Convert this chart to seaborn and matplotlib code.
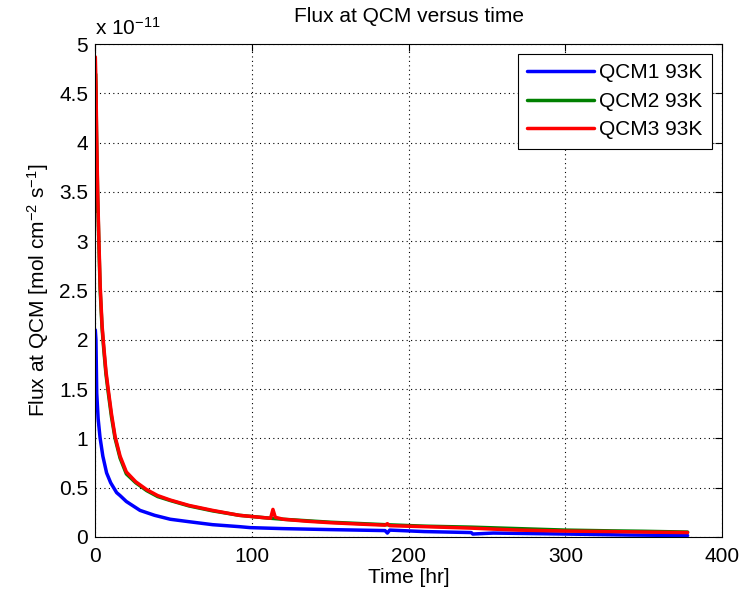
import numpy as np
import pandas as pd
import matplotlib
matplotlib.use("Agg")
import matplotlib.pyplot as plt
import seaborn as sns

# values, flux in units of 1e-11 mol cm^-2 s^-1
t_qcm1 = [0.2, 0.6, 1.1, 2, 3.2, 5, 7.4, 10, 13.8, 16, 20, 28.7, 38, 48, 60, 75, 92, 99,
          120, 150, 185, 186.5, 188, 210, 240, 241, 254, 300, 340, 378]
f_qcm1 = [2.1, 2.0, 1.46, 1.2, 1.01, 0.82, 0.65, 0.55, 0.45, 0.42, 0.36, 0.27, 0.22, 0.18,
          0.155, 0.125, 0.105, 0.095, 0.085, 0.075, 0.065, 0.04, 0.07, 0.055, 0.045, 0.03,
          0.04, 0.03, 0.02, 0.015]

t_qcm2 = [0, 0.3, 0.6, 1.0, 1.7, 2.5, 3.3, 4.5, 5.5, 7, 8.5, 10.5, 12.8, 16, 20, 26, 33, 40,
          48, 60, 75, 92, 112, 120, 150, 185, 210, 240, 270, 300, 330, 350, 378]
f_qcm2 = [3.3, 4.7, 4.5, 4.05, 3.45, 2.95, 2.5, 2.12, 1.92, 1.65, 1.46, 1.22, 1.0, 0.8, 0.64,
          0.55, 0.47, 0.41, 0.37, 0.315, 0.265, 0.22, 0.19, 0.18, 0.15, 0.125, 0.11, 0.1,
          0.085, 0.07, 0.062, 0.058, 0.05]

t_qcm3 = [0.2, 0.6, 1.0, 1.7, 2.5, 3.3, 4.5, 5.5, 7, 8.5, 10.5, 12.8, 16, 20, 26, 33, 40, 48,
          60, 75, 92, 105, 112, 113.5, 115, 120, 135, 150, 170, 185, 186.5, 188, 210, 240,
          254, 270, 300, 330, 350, 378]
f_qcm3 = [4.87, 4.6, 4.13, 3.5, 3.0, 2.55, 2.15, 1.95, 1.68, 1.49, 1.25, 1.02, 0.82, 0.66,
          0.56, 0.48, 0.42, 0.375, 0.32, 0.27, 0.22, 0.2, 0.19, 0.28, 0.2, 0.18, 0.16, 0.145,
          0.13, 0.12, 0.135, 0.115, 0.105, 0.09, 0.08, 0.07, 0.06, 0.055, 0.05, 0.045]

labels = ["QCM1 93K", "QCM2 93K", "QCM3 93K"]
colors = ["#0000ff", "#008000", "#ff0000"]

sns.set_style("white")
plt.rcParams["font.family"] = ["Liberation Sans", "DejaVu Sans"]
plt.rcParams["mathtext.fontset"] = "custom"
plt.rcParams["mathtext.rm"] = "Liberation Sans"
plt.rcParams["mathtext.it"] = "Liberation Sans"
plt.rcParams["text.color"] = "black"
plt.rcParams["axes.labelcolor"] = "black"
plt.rcParams["xtick.color"] = "black"
plt.rcParams["ytick.color"] = "black"

fig = plt.figure(figsize=(7.51, 5.96), dpi=100)
ax = fig.add_axes([0.1265, 0.099, 0.835, 0.827])

series = [(t_qcm1, f_qcm1), (t_qcm2, f_qcm2), (t_qcm3, f_qcm3)]
for (t, f), lab, col in zip(series, labels, colors):
    df = pd.DataFrame({"t": t, "f": f})
    sns.lineplot(data=df, x="t", y="f", color=col, lw=2.5, label=lab, ax=ax,
                 sort=False, estimator=None)

ax.set_xlim(0, 400)
ax.set_ylim(0, 5)
ax.set_xticks(np.arange(0, 401, 100))
ax.set_yticks(np.arange(0, 5.01, 0.5))
ax.set_yticklabels(["0", "0.5", "1", "1.5", "2", "2.5", "3", "3.5", "4", "4.5", "5"])

ax.grid(True, color="black", linestyle=(0, (1, 3)), linewidth=0.8)
for s in ax.spines.values():
    s.set_color("black")
    s.set_linewidth(0.8)
ax.tick_params(direction="in", length=5, width=0.8, top=True, right=True,
               labelsize=15, colors="black", pad=7)
ax.tick_params(axis="y", pad=5)

ax.set_title("Flux at QCM versus time", fontsize=15, pad=16, color="black")
ax.set_xlabel("Time [hr]", fontsize=15, labelpad=2, color="black")
ax.set_ylabel("Flux at QCM [mol cm$^{-2}$ s$^{-1}$]", fontsize=15, labelpad=6, color="black")
ax.text(0.0, 1.018, "x 10$^{-11}$", transform=ax.transAxes, fontsize=15,
        ha="left", va="baseline", color="black")

leg = ax.legend(loc="upper right", fontsize=15, fancybox=False, framealpha=1,
                edgecolor="black", borderaxespad=0.48, handlelength=3.2,
                handletextpad=0.25, labelspacing=0.45, borderpad=0.45)
leg.get_frame().set_linewidth(0.8)
for txt in leg.get_texts():
    txt.set_color("black")

fig.savefig("out.png", dpi=100)
